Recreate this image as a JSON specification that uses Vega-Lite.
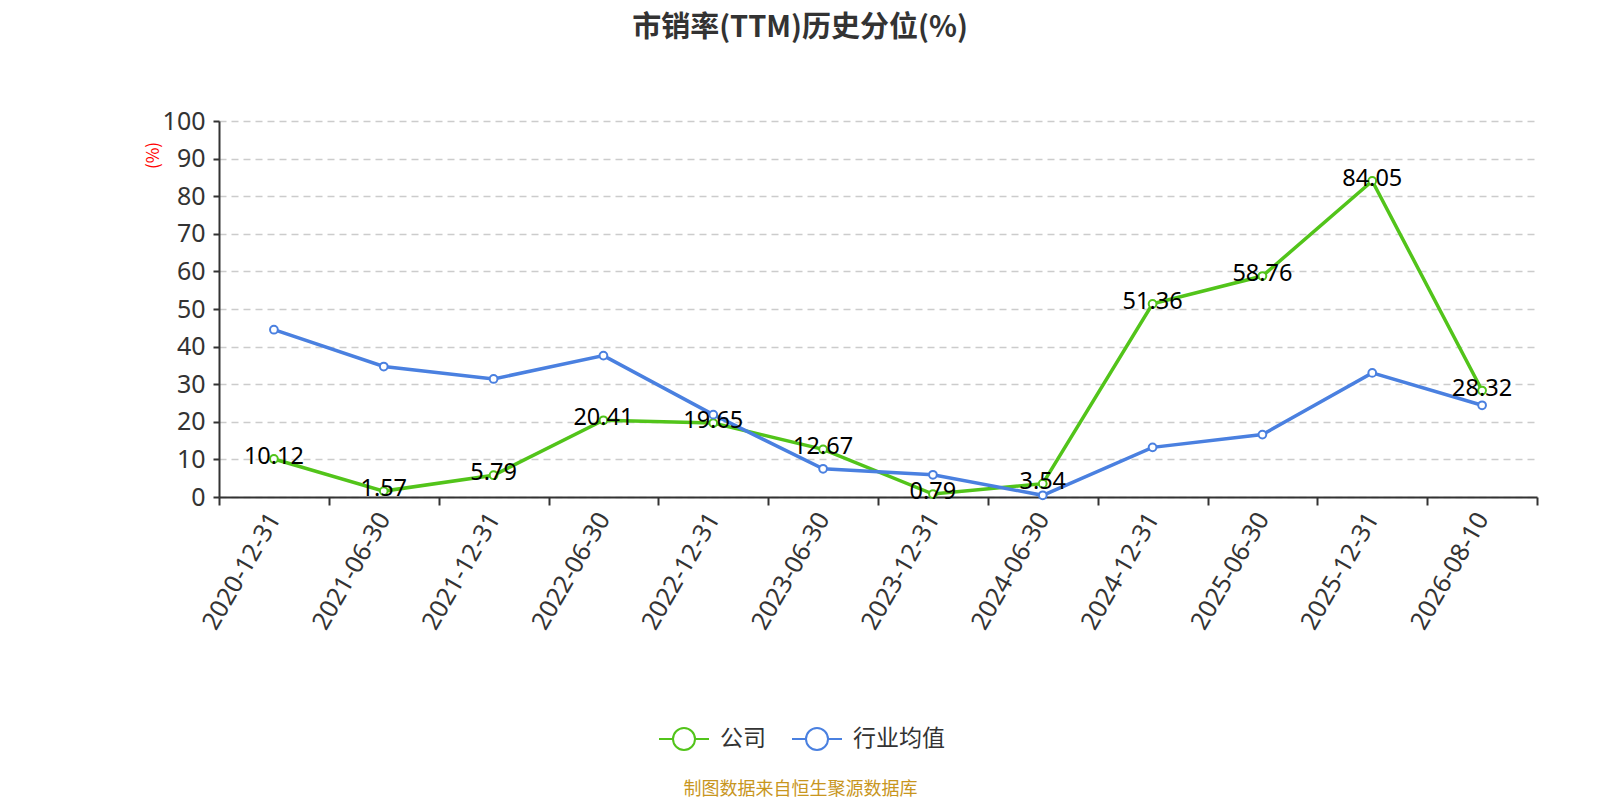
{
  "$schema": "https://vega.github.io/schema/vega-lite/v6.json",
  "width": 1318,
  "height": 376,
  "autosize": {"type": "none"},
  "padding": {"left": 219, "top": 121, "right": 63, "bottom": 303},
  "background": "white",
  "config": {
    "font": "Noto Sans CJK SC",
    "view": {"stroke": null}
  },
  "title": {
    "text": "市销率(TTM)历史分位(%)",
    "fontSize": 29,
    "fontWeight": "bold",
    "color": "#333333",
    "anchor": "middle",
    "dx": -78,
    "offset": 66
  },
  "data": {
    "values": [
      {"date": "2020-12-31", "series": "公司", "value": 10.12},
      {"date": "2021-06-30", "series": "公司", "value": 1.57},
      {"date": "2021-12-31", "series": "公司", "value": 5.79},
      {"date": "2022-06-30", "series": "公司", "value": 20.41},
      {"date": "2022-12-31", "series": "公司", "value": 19.65},
      {"date": "2023-06-30", "series": "公司", "value": 12.67},
      {"date": "2023-12-31", "series": "公司", "value": 0.79},
      {"date": "2024-06-30", "series": "公司", "value": 3.54},
      {"date": "2024-12-31", "series": "公司", "value": 51.36},
      {"date": "2025-06-30", "series": "公司", "value": 58.76},
      {"date": "2025-12-31", "series": "公司", "value": 84.05},
      {"date": "2026-08-10", "series": "公司", "value": 28.32},
      {"date": "2020-12-31", "series": "行业均值", "value": 44.5},
      {"date": "2021-06-30", "series": "行业均值", "value": 34.7},
      {"date": "2021-12-31", "series": "行业均值", "value": 31.4},
      {"date": "2022-06-30", "series": "行业均值", "value": 37.6},
      {"date": "2022-12-31", "series": "行业均值", "value": 21.9},
      {"date": "2023-06-30", "series": "行业均值", "value": 7.5},
      {"date": "2023-12-31", "series": "行业均值", "value": 5.9},
      {"date": "2024-06-30", "series": "行业均值", "value": 0.45},
      {"date": "2024-12-31", "series": "行业均值", "value": 13.2},
      {"date": "2025-06-30", "series": "行业均值", "value": 16.6},
      {"date": "2025-12-31", "series": "行业均值", "value": 33.0},
      {"date": "2026-08-10", "series": "行业均值", "value": 24.4}
    ]
  },
  "encoding": {
    "x": {
      "field": "date",
      "type": "ordinal",
      "bandPosition": 0.5,
      "scale": {"type": "band", "paddingInner": 0, "paddingOuter": 0},
      "axis": {
        "title": "制图数据来自恒生聚源数据库",
        "titleColor": "#c8961e",
        "titleFontSize": 18,
        "titleFontWeight": "normal",
        "titleX": 581,
        "titleY": 292,
        "titleAlign": "center",
        "titleBaseline": "middle",
        "labelAngle": -60,
        "labelAlign": "right",
        "labelBaseline": "middle",
        "labelFontSize": 25,
        "labelColor": "#333333",
        "labelPadding": 9,
        "labelFont": "Noto Sans",
        "domainColor": "#333333",
        "domainWidth": 2,
        "tickColor": "#333333",
        "tickWidth": 2,
        "tickSize": 8,
        "tickBand": "extent",
        "grid": false
      }
    },
    "y": {
      "field": "value",
      "type": "quantitative",
      "scale": {"domain": [0, 100], "nice": false},
      "axis": {
        "values": [0, 10, 20, 30, 40, 50, 60, 70, 80, 90, 100],
        "title": "(%)",
        "titleColor": "red",
        "titleFontSize": 17,
        "titleFontWeight": "normal",
        "titleX": -57,
        "titleY": 34,
        "titleAlign": "center",
        "labelFontSize": 25,
        "labelColor": "#333333",
        "labelFont": "Noto Sans",
        "labelPadding": 8,
        "domainColor": "#333333",
        "domainWidth": 2,
        "tickColor": "#333333",
        "tickWidth": 2,
        "tickSize": 6,
        "grid": true,
        "gridColor": "#cccccc",
        "gridWidth": 1.5,
        "gridDash": [7, 5]
      }
    }
  },
  "layer": [
    {
      "mark": {"type": "line", "strokeWidth": 3.5},
      "encoding": {
        "stroke": {
          "field": "series",
          "type": "nominal",
          "scale": {"domain": ["公司", "行业均值"], "range": ["#52c41a", "#4a80e0"]},
          "legend": {
            "orient": "none",
            "direction": "horizontal",
            "legendX": 439,
            "legendY": 592,
            "title": null,
            "symbolType": "M-1,0L-0.44,0M0.44,0L1,0M-0.44,0A0.44,0.44 0 1,1 0.44,0A0.44,0.44 0 1,1 -0.44,0",
            "symbolSize": 2500,
            "symbolStrokeWidth": 2,
            "symbolFillColor": "white",
            "labelFontSize": 23,
            "labelColor": "#333333",
            "labelOffset": 10,
            "columnPadding": 22
          }
        }
      }
    },
    {
      "mark": {"type": "point", "filled": true, "fill": "white", "size": 60, "strokeWidth": 2, "opacity": 1},
      "encoding": {
        "stroke": {"field": "series", "type": "nominal"}
      }
    },
    {
      "transform": [{"filter": "datum.series === '公司'"}],
      "mark": {"type": "text", "fontSize": 23.5, "color": "black", "baseline": "middle", "dy": -2, "font": "Noto Sans"},
      "encoding": {
        "text": {"field": "value", "type": "quantitative", "format": ".2f"}
      }
    }
  ]
}
